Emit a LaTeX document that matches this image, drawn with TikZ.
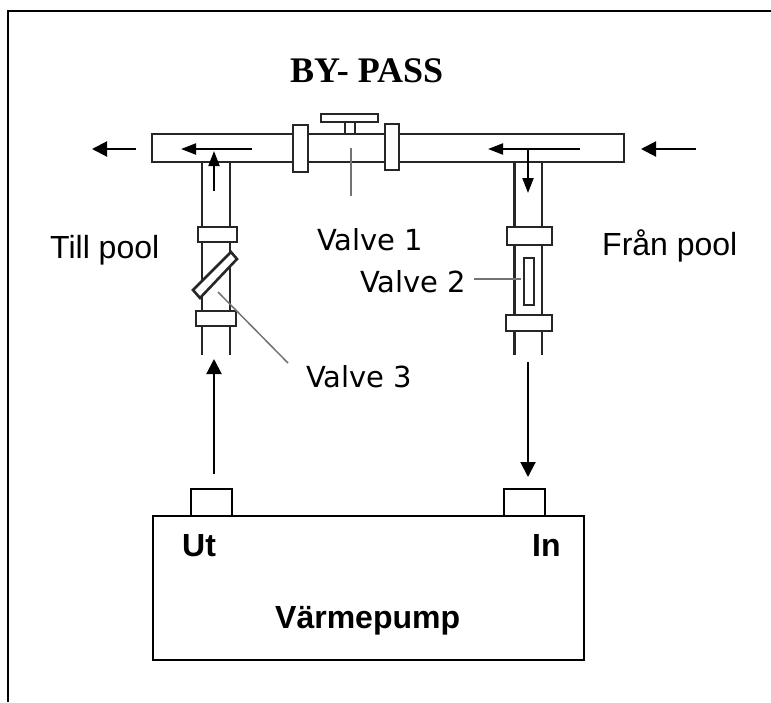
\documentclass[tikz,border=0pt]{standalone}
\usepackage{fontspec}
\setmainfont{Liberation Sans}
\newfontfamily\valvefont{DejaVu Sans}
\newfontfamily\titlefont{Liberation Serif}
\usetikzlibrary{arrows.meta}
\tikzset{
  pipeline/.style={draw=black!85,line width=2.6pt},
  partbox/.style={draw=black!85,line width=2.6pt,fill=white},
  leaderline/.style={draw=black!55,line width=1.5pt},
  pumpline/.style={draw=black,line width=2pt},
  bigflow/.style={draw=black,line width=2pt,-{Triangle[length=15pt,width=15pt]}},
  smallflow/.style={draw=black,line width=2pt,-{Triangle[length=15pt,width=11pt]}},
  pooltext/.style={anchor=base west,inner sep=0pt,font=\fontsize{32}{32}\selectfont},
  valvetext/.style={anchor=base west,inner sep=0pt,text=black,font=\valvefont\fontsize{29}{29}\selectfont},
  pumptext/.style={anchor=base west,inner sep=0pt,font=\bfseries\fontsize{32}{32}\selectfont},
}
\begin{document}
\begin{tikzpicture}[x=1pt,y=-1pt]
\useasboundingbox (0,0) rectangle (771,702);
\fill[white] (0,0) rectangle (771,702);
% frame
\draw[black,line width=2pt] (8,702) -- (8,11) -- (771,11);
% left vertical pipe
\draw[pipeline] (202,162) -- (202,355);
\draw[pipeline] (230,162) -- (230,355);
% right vertical pipe
\draw[pipeline] (514.5,162) -- (514.5,355);
\draw[pipeline] (542,162) -- (542,355);
% main pipe
\draw[pipeline] (152,134) rectangle (624,162);
% valve 1
\draw[partbox] (293,125) rectangle (308,172);
\draw[partbox] (385,124) rectangle (399,170);
\draw[partbox] (345,122) rectangle (355,134);
\draw[partbox] (321,114) rectangle (378,122);
\draw[leaderline] (351,148) -- (351,196);
% left valve 3
\draw[partbox] (198,227) rectangle (237,242);
\draw[partbox] (196,311) rectangle (236,326);
\draw[partbox] (193,290) -- (200,298) -- (237,259) -- (231,252) -- cycle;
% right valve 2
\draw[partbox] (507,227) rectangle (552,245);
\draw[partbox] (506,315) rectangle (552,331);
\draw[partbox] (524,258) rectangle (534,305);
% texts
\node[anchor=base west,inner sep=0pt,font=\titlefont\bfseries\fontsize{36}{36}\selectfont] (title) at (290,82) {BY- PASS};
\node[pooltext] (till) at (50,258) {Till pool};
\node[pooltext] (fran) at (602,255) {Från pool};
\node[valvetext] (v1) at (317,250) {Valve 1};
\node[valvetext] (v2) at (360,292) {Valve 2};
\node[valvetext] (v3) at (306,387) {Valve 3};
% leaders
\coordinate (v2end) at (521,279);
\coordinate (v2start) at (474,279);
\draw[leaderline] (v2start) -- (v2end);
\coordinate (v3a) at (218,292);
\coordinate (v3b) at (288,363);
\draw[leaderline] (v3a) -- (v3b);
% pump
\draw[pumpline] (191,515) -- (191,489) -- (232,489) -- (232,515);
\draw[pumpline] (504,515) -- (504,489) -- (545,489) -- (545,515);
\node[draw=black,line width=2pt,minimum width=431pt,minimum height=144pt,inner sep=0pt,anchor=north west] (pump) at (152,515) {};
\node[pumptext] (ut) at (182,556) {Ut};
\node[pumptext] (in) at (532,556) {In};
\node[pumptext] (vp) at (275,628) {Värmepump};
% flow arrows
\coordinate (a1s) at (136,149); \coordinate (a1e) at (92,149);
\draw[bigflow] (a1s) -- (a1e);
\coordinate (a2s) at (252,149); \coordinate (a2e) at (181,149);
\draw[smallflow] (a2s) -- (a2e);
\coordinate (a3s) at (214,191); \coordinate (a3e) at (214,151);
\draw[smallflow] (a3s) -- (a3e);
\coordinate (a4s) at (580,149); \coordinate (a4e) at (488,149);
\draw[smallflow] (a4s) -- (a4e);
\coordinate (a5s) at (528,149); \coordinate (a5e) at (528,193);
\draw[smallflow] (a5s) -- (a5e);
\coordinate (a6s) at (696,149); \coordinate (a6e) at (641,149);
\draw[bigflow] (a6s) -- (a6e);
\coordinate (a7s) at (214,474); \coordinate (a7e) at (214,359);
\draw[bigflow] (a7s) -- (a7e);
\coordinate (a8s) at (528,362); \coordinate (a8e) at (528,477);
\draw[bigflow] (a8s) -- (a8e);
\end{tikzpicture}
\end{document}
